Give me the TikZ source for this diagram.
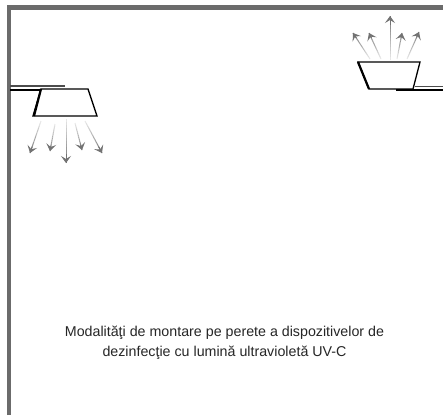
\documentclass[tikz,border=0pt]{standalone}
\usepackage{fontspec}
\setmainfont{Liberation Sans}
\usetikzlibrary{arrows.meta,calc}
\tikzset{
  wallbar/.style={draw=black!58,line width=4.2pt},
  lampbody/.style={draw=black,line width=1.3pt,line join=miter},
  lampedge/.style={draw=black,line width=2.2pt},
  mountdark/.style={draw=black,line width=1.8pt},
  mountgray/.style={draw=black!70,line width=1.9pt},
  captiontext/.style={font=\fontsize{14.25}{20}\selectfont,text=black!85,align=center,inner sep=0pt},
}
% fading ray: start, end
\newcommand{\uvray}[2]{%
  \foreach \i [evaluate=\i as \s using (\i-1)/14, evaluate=\i as \e using \i/14, evaluate=\i as \k using 6+\i*3.4] in {1,...,14}{%
    \draw[draw=black!\k,line width=1pt] ($(#1)!\s!(#2)$) -- ($(#1)!\e!(#2)$);
  }%
  \draw[draw=black!55,line width=1pt,-{Stealth[inset=3pt,length=7pt,width=10pt]}] ($(#1)!0.8!(#2)$) -- (#2);
}
\begin{document}
\begin{tikzpicture}[x=1pt,y=-1pt]
\useasboundingbox (0,0) rectangle (443,415);
\fill[white] (0,0) rectangle (443,415);
% walls
\draw[wallbar] (9,415) -- (9,7.5) -- (443,7.5);
% left lamp
\draw[mountgray] (10,86.2) -- (65,86.2);
\draw[mountdark] (10,90) -- (41,90);
\draw[lampbody] (41,89) -- (88,89) -- (97,116) -- (33,116) -- cycle;
\draw[lampedge] (41,89) -- (34,116);
\coordinate (la1) at (41,121); \coordinate (la2) at (30,153);
\coordinate (lb1) at (55,124); \coordinate (lb2) at (50,151);
\coordinate (lc1) at (66,119); \coordinate (lc2) at (66,163);
\coordinate (ld1) at (75,123); \coordinate (ld2) at (82,150);
\coordinate (le1) at (85,121); \coordinate (le2) at (102,153);
\uvray{la1}{la2}\uvray{lb1}{lb2}\uvray{lc1}{lc2}\uvray{ld1}{ld2}\uvray{le1}{le2}
% right lamp
\draw[mountgray] (415,86.5) -- (443,86.5);
\draw[mountdark] (396,90.2) -- (443,90.2);
\draw[lampbody] (358,62) -- (420,62) -- (413,89) -- (369,89) -- cycle;
\draw[lampedge] (358,62) -- (369,89);
\coordinate (ra1) at (370,59); \coordinate (ra2) at (353,33);
\coordinate (rb1) at (381,59); \coordinate (rb2) at (369,33);
\coordinate (rc1) at (390,60); \coordinate (rc2) at (390,16);
\coordinate (rd1) at (397,59); \coordinate (rd2) at (402,33);
\coordinate (re1) at (407,59); \coordinate (re2) at (419,32);
\uvray{ra1}{ra2}\uvray{rb1}{rb2}\uvray{rc1}{rc2}\uvray{rd1}{rd2}\uvray{re1}{re2}
% caption
\node[captiontext] (caption) at (224.5,342.5) {Modalităţi de montare pe perete a dispozitivelor de\\dezinfecţie cu lumină ultravioletă UV-C};
\end{tikzpicture}
\end{document}
